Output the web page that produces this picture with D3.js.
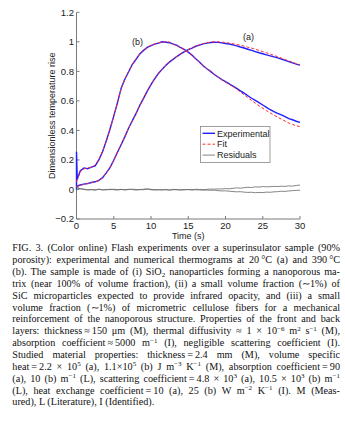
<!DOCTYPE html>
<html><head><meta charset="utf-8">
<script src="https://cdn.jsdelivr.net/npm/d3@7/dist/d3.min.js"></script>
<style>body{margin:0;background:#fff}svg{display:block}</style>
</head><body>
<svg id="c" width="345" height="432"></svg>
<script>
// ---- data ----
const T = [0,0.5,1,1.5,2,2.5,3,3.5,4,4.5,5,5.5,6,6.5,7,7.5,8,8.5,9,9.5,10,10.5,11,11.5,12,12.5,13,13.5,14,14.5,15,15.5,16,16.5,17,17.5,18,18.5,19,19.5,20,20.5,21,21.5,22,22.5,23,23.5,24,24.5,25,25.5,26,26.5,27,27.5,28,28.5,29,29.5,30];
const fitA = [0.02,0.028,0.035,0.041,0.046,0.052,0.06,0.08,0.11,0.15,0.2,0.255,0.305,0.36,0.415,0.465,0.518,0.57,0.62,0.668,0.713,0.752,0.787,0.817,0.843,0.865,0.885,0.903,0.92,0.935,0.948,0.96,0.971,0.98,0.988,0.994,0.998,1.0,1.0,0.998,0.995,0.991,0.987,0.982,0.977,0.971,0.964,0.957,0.95,0.942,0.934,0.926,0.917,0.908,0.899,0.89,0.88,0.871,0.861,0.852,0.843];
const expA = [0.022,0.03,0.036,0.04,0.047,0.052,0.062,0.08,0.112,0.148,0.198,0.252,0.305,0.358,0.416,0.466,0.515,0.57,0.617,0.666,0.71,0.75,0.786,0.815,0.841,0.864,0.883,0.902,0.918,0.934,0.947,0.958,0.97,0.978,0.986,0.991,0.995,0.997,0.996,0.993,0.989,0.985,0.979,0.973,0.965,0.958,0.95,0.942,0.934,0.926,0.919,0.912,0.905,0.898,0.891,0.883,0.874,0.866,0.857,0.849,0.842];
const fitB = [0.05,0.12,0.14,0.145,0.15,0.165,0.205,0.26,0.325,0.41,0.495,0.59,0.685,0.75,0.8,0.848,0.885,0.918,0.945,0.963,0.976,0.986,0.994,0.999,1.0,0.998,0.983,0.972,0.96,0.946,0.93,0.91,0.884,0.862,0.84,0.818,0.797,0.778,0.76,0.742,0.727,0.712,0.697,0.68,0.66,0.642,0.622,0.603,0.585,0.567,0.55,0.534,0.519,0.504,0.49,0.476,0.463,0.45,0.44,0.432,0.425];
const expBT = [0,0,0.1,0.5,1,1.5,2,2.5,3,3.5,4,4.5,5,5.5,6,6.5,7,7.5,8,8.5,9,9.5,10,10.5,11,11.5,12,12.5,13,13.5,14,14.5,15,15.5,16,16.5,17,17.5,18,18.5,19,19.5,20,20.5,21,21.5,22,22.5,23,23.5,24,24.5,25,25.5,26,26.5,27,27.5,28,28.5,29,29.5,30];
const expB = [0,0.255,0.07,0.125,0.146,0.141,0.151,0.16,0.2,0.255,0.33,0.41,0.497,0.588,0.686,0.748,0.797,0.848,0.882,0.918,0.942,0.962,0.975,0.984,0.991,1.0,0.997,0.994,0.985,0.976,0.96,0.948,0.93,0.91,0.885,0.864,0.838,0.818,0.8,0.779,0.762,0.745,0.73,0.715,0.7,0.685,0.668,0.652,0.635,0.618,0.603,0.588,0.572,0.556,0.54,0.527,0.515,0.505,0.493,0.48,0.472,0.462,0.454];
const resA = [0.018,0.004,0.0,-0.003,-0.002,-0.004,0.001,-0.002,-0.003,0.002,-0.002,-0.004,0.0,-0.003,0.002,-0.001,-0.004,0.0,-0.002,0.003,-0.002,-0.004,-0.001,-0.003,-0.002,-0.004,-0.002,-0.001,-0.003,-0.002,-0.001,-0.003,-0.002,-0.003,-0.004,-0.004,-0.006,-0.005,-0.008,-0.01,-0.009,-0.012,-0.014,-0.016,-0.015,-0.018,-0.02,-0.019,-0.022,-0.02,-0.021,-0.018,-0.019,-0.016,-0.015,-0.012,-0.013,-0.01,-0.008,-0.006,-0.005];
const resB = [0.012,0.006,0.002,-0.002,0.0,-0.003,0.002,-0.003,0.001,-0.002,0.002,-0.001,0.001,-0.002,-0.001,0.002,0.0,-0.002,0.002,0.004,0.001,-0.001,-0.003,-0.002,0.0,-0.004,0.001,-0.002,-0.003,-0.001,0.0,-0.002,0.001,0.0,-0.002,0.001,0.003,0.002,0.004,0.003,0.006,0.004,0.008,0.011,0.009,0.012,0.015,0.013,0.018,0.016,0.02,0.018,0.019,0.021,0.02,0.022,0.021,0.024,0.023,0.027,0.03];
const xTicks = [0,5,10,15,20,25,30];
const yTicks = [-0.2,0,0.2,0.4,0.6,0.8,1,1.2];
const legendLabels = ["Experimental","Fit","Residuals"];
const curveLabels = [{t:"(b)",x:8.2,y:1.0},{t:"(a)",x:23.1,y:1.037}];
const caption = [
 [["FIG. 3. (Color online) Flash experiments over a superinsulator sample (90%"]],
 [["porosity): experimental and numerical thermograms at 20\u2009\u00b0C (a) and 390\u2009\u00b0C"]],
 [["(b). The sample is made of (i) SiO"],["2","sub"],[" nanoparticles forming a nanoporous ma-"]],
 [["trix (near 100% of volume fraction), (ii) a small volume fraction (\u223c1%) of"]],
 [["SiC microparticles expected to provide infrared opacity, and (iii) a small"]],
 [["volume fraction (\u223c1%) of micrometric cellulose fibers for a mechanical"]],
 [["reinforcement of the nanoporous structure. Properties of the front and back"]],
 [["layers: thickness\u2009\u2248\u2009150 \u03bcm (M), thermal diffusivity \u2248 1 \u00d7 10"],["\u22126","sup"],[" m"],["2","sup"],[" s"],["\u22121","sup"],[" (M),"]],
 [["absorption coefficient\u2009\u2248\u20095000 m"],["\u22121","sup"],[" (I), negligible scattering coefficient (I)."]],
 [["Studied material properties: thickness\u2009=\u20092.4 mm (M), volume specific"]],
 [["heat\u2009=\u20092.2 \u00d7 10"],["5","sup"],[" (a), 1.1\u00d710"],["5","sup"],[" (b) J m"],["\u22123","sup"],[" K"],["\u22121","sup"],[" (M), absorption coefficient\u2009=\u200990"]],
 [["(a), 10 (b) m"],["\u22121","sup"],[" (L), scattering coefficient\u2009=\u20094.8 \u00d7 10"],["3","sup"],[" (a), 10.5 \u00d7 10"],["3","sup"],[" (b) m"],["\u22121","sup"]],
 [["(L), heat exchange coefficient\u2009=\u200910 (a), 25 (b) W m"],["\u22122","sup"],[" K"],["\u22121","sup"],[" (I). M (Meas-"]],
 [["ured), L (Literature), I (Identified)."]]
];

// ---- chart ----
const svg = d3.select("#c");
const x = d3.scaleLinear().domain([0,30]).range([76.5,300]);
const y = d3.scaleLinear().domain([-0.2,1.2]).range([219,12.3]);
const sans = "Liberation Sans, Arial, sans-serif";
const axCol = "#7a7a7a", txtCol = "#222";

// axes (MATLAB-like, inward ticks, box off)
const g = svg.append("g");
g.append("line").attr("x1",x(0)).attr("x2",x(30)).attr("y1",y(-0.2)).attr("y2",y(-0.2)).attr("stroke",axCol).attr("stroke-width",1);
g.append("line").attr("x1",x(0)).attr("x2",x(0)).attr("y1",y(-0.2)).attr("y2",y(1.2)).attr("stroke",axCol).attr("stroke-width",1);
xTicks.forEach(v=>{
  g.append("line").attr("x1",x(v)).attr("x2",x(v)).attr("y1",y(-0.2)).attr("y2",y(-0.2)-3).attr("stroke",axCol);
  g.append("text").attr("x",x(v)).attr("y",y(-0.2)+10.3).attr("text-anchor","middle").attr("font-family",sans).attr("font-size",9.5).attr("fill",txtCol).text(v);
});
yTicks.forEach(v=>{
  g.append("line").attr("x1",x(0)).attr("x2",x(0)+3).attr("y1",y(v)).attr("y2",y(v)).attr("stroke",axCol);
  g.append("text").attr("x",x(0)-2.5).attr("y",y(v)+3.4).attr("text-anchor","end").attr("font-family",sans).attr("font-size",9.5).attr("fill",txtCol).text(d3.format("~g")(+v.toFixed(1)));
});
g.append("text").attr("x",x(15)).attr("y",238.5).attr("text-anchor","middle").attr("font-family",sans).attr("font-size",9).attr("fill",txtCol).text("Time (s)");
g.append("text").attr("transform",`translate(54.5,${(y(1.2)+y(-0.2))/2}) rotate(-90)`).attr("text-anchor","middle").attr("font-family",sans).attr("font-size",9).attr("fill",txtCol).text("Dimensionless temperature rise");

const line = (tt,vv)=>d3.line().x((d,i)=>x(tt[i])).y(d=>y(d))(vv);
const pg = svg.append("g");
pg.append("path").attr("d",line(T,expA)).attr("fill","none").attr("stroke","#1f1fff").attr("stroke-width",1.4);
pg.append("path").attr("d",line(expBT,expB)).attr("fill","none").attr("stroke","#1f1fff").attr("stroke-width",1.4);
pg.append("path").attr("d",line(T,fitA)).attr("fill","none").attr("stroke","#ff2a2a").attr("stroke-width",1).attr("stroke-dasharray","3,2");
pg.append("path").attr("d",line(T,fitB)).attr("fill","none").attr("stroke","#ff2a2a").attr("stroke-width",1).attr("stroke-dasharray","3,2");
pg.append("path").attr("d",line(T,resA)).attr("fill","none").attr("stroke","#666").attr("stroke-width",0.8);
pg.append("path").attr("d",line(T,resB)).attr("fill","none").attr("stroke","#666").attr("stroke-width",0.8);

curveLabels.forEach(c=>{
  svg.append("text").attr("x",x(c.x)).attr("y",y(c.y)+3.2).attr("text-anchor","middle").attr("font-family",sans).attr("font-size",9).attr("fill",txtCol).text(c.t);
});

// legend
const lg = svg.append("g");
lg.append("rect").attr("x",200.5).attr("y",126.5).attr("width",69.5).attr("height",36).attr("fill","#fff").attr("stroke","#888").attr("stroke-width",0.8);
const lstyles = [{c:"#1f1fff",w:1.4,d:null},{c:"#ff2a2a",w:1,d:"3,2"},{c:"#666",w:0.8,d:null}];
legendLabels.forEach((l,i)=>{
  const yy = 133.3 + i*10.9;
  const ln = lg.append("line").attr("x1",202.5).attr("x2",215).attr("y1",yy).attr("y2",yy).attr("stroke",lstyles[i].c).attr("stroke-width",lstyles[i].w);
  if(lstyles[i].d) ln.attr("stroke-dasharray",lstyles[i].d);
  lg.append("text").attr("x",217).attr("y",yy+3.2).attr("font-family",sans).attr("font-size",9).attr("fill",txtCol).text(l);
});

// caption
const serif = "Liberation Serif, Times New Roman, serif";
const cg = svg.append("g");
const left = 12.3, right = 340, base0 = 251.3, step = 11.85;
caption.forEach((segs,li)=>{
  const t = cg.append("text").attr("x",left).attr("y",base0+li*step).attr("font-family",serif).attr("font-size",10.2).attr("fill","#111");
  let shift = 0;
  segs.forEach(s=>{
    const ts = t.append("tspan").text(s[0]);
    let target = 0;
    if(s[1]==="sup") target = -3.6; else if(s[1]==="sub") target = 2.4;
    if(s[1]) ts.attr("font-size",7);
    if(target!==shift){ ts.attr("dy",target-shift); shift = target; }
  });
  if(li < caption.length-1){
    const full = segs.map(s=>s[0]).join("");
    const nSp = (full.match(/ /g)||[]).length;
    const w = t.node().getComputedTextLength();
    if(nSp>0) t.attr("word-spacing",((right-left)-w)/nSp);
  }
});
</script>
</body></html>
